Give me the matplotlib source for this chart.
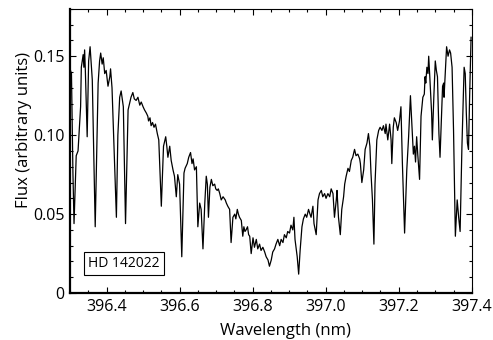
import matplotlib
matplotlib.use("Agg")
import matplotlib.pyplot as plt
from matplotlib.ticker import MultipleLocator

# Spectrum (wavelength in nm, flux in arbitrary units)
wavelength = [
    396.300, 396.304, 396.308, 396.311, 396.317, 396.322, 396.329, 396.331,
    396.336, 396.338, 396.340, 396.342, 396.347, 396.351, 396.355, 396.358,
    396.361, 396.369, 396.377, 396.381, 396.384, 396.388, 396.391, 396.395,
    396.399, 396.404, 396.409, 396.411, 396.415, 396.420, 396.427, 396.431,
    396.436, 396.440, 396.443, 396.446, 396.452, 396.459, 396.463, 396.467,
    396.472, 396.476, 396.481, 396.486, 396.491, 396.495, 396.500, 396.504,
    396.509, 396.513, 396.515, 396.519, 396.522, 396.526, 396.530, 396.534,
    396.539, 396.543, 396.550, 396.556, 396.562, 396.565, 396.568, 396.573,
    396.577, 396.582, 396.586, 396.591, 396.595, 396.600, 396.606, 396.612,
    396.615, 396.621, 396.625, 396.630, 396.634, 396.637, 396.641, 396.646,
    396.650, 396.655, 396.659, 396.664, 396.669, 396.673, 396.676, 396.679,
    396.683, 396.687, 396.691, 396.696, 396.699, 396.703, 396.706, 396.710,
    396.714, 396.719, 396.725, 396.728, 396.732, 396.737, 396.741, 396.746,
    396.751, 396.754, 396.758, 396.761, 396.764, 396.769, 396.773, 396.776,
    396.779, 396.782, 396.786, 396.789, 396.792, 396.796, 396.801, 396.805,
    396.810, 396.814, 396.819, 396.823, 396.828, 396.833, 396.837, 396.842,
    396.846, 396.851, 396.855, 396.860, 396.864, 396.869, 396.874, 396.878,
    396.883, 396.887, 396.892, 396.896, 396.901, 396.905, 396.910, 396.913,
    396.916, 396.922, 396.926, 396.930, 396.935, 396.939, 396.944, 396.948,
    396.953, 396.957, 396.960, 396.965, 396.968, 396.974, 396.979, 396.983,
    396.988, 396.992, 396.997, 397.001, 397.006, 397.011, 397.015, 397.020,
    397.024, 397.029, 397.031, 397.035, 397.040, 397.044, 397.049, 397.052,
    397.056, 397.061, 397.065, 397.070, 397.074, 397.079, 397.083, 397.088,
    397.093, 397.095, 397.099, 397.104, 397.108, 397.113, 397.117, 397.121,
    397.124, 397.128, 397.132, 397.135, 397.140, 397.145, 397.149, 397.154,
    397.158, 397.163, 397.165, 397.170, 397.175, 397.179, 397.181, 397.185,
    397.188, 397.193, 397.197, 397.202, 397.206, 397.210, 397.216, 397.222,
    397.227, 397.232, 397.237, 397.240, 397.243, 397.246, 397.249, 397.252,
    397.257, 397.261, 397.266, 397.270, 397.272, 397.274, 397.277, 397.280,
    397.282, 397.285, 397.290, 397.292, 397.296, 397.300, 397.303, 397.306,
    397.310, 397.313, 397.317, 397.320, 397.323, 397.324, 397.328, 397.331,
    397.335, 397.339, 397.342, 397.346, 397.350, 397.355, 397.360, 397.364,
    397.368, 397.373, 397.379, 397.382, 397.385, 397.388, 397.391, 397.394,
    397.398,
]
flux = [
    0.142, 0.139, 0.076, 0.044, 0.087, 0.090, 0.118, 0.143,
    0.151, 0.143, 0.154, 0.141, 0.099, 0.147, 0.156, 0.145,
    0.135, 0.042, 0.133, 0.147, 0.152, 0.145, 0.149, 0.139,
    0.141, 0.131, 0.137, 0.142, 0.130, 0.095, 0.048, 0.100,
    0.124, 0.128, 0.123, 0.118, 0.044, 0.116, 0.120, 0.124,
    0.127, 0.123, 0.122, 0.124, 0.119, 0.121, 0.118, 0.116,
    0.114, 0.112, 0.109, 0.111, 0.106, 0.108, 0.105, 0.107,
    0.101, 0.097, 0.055, 0.093, 0.099, 0.093, 0.086, 0.093,
    0.084, 0.078, 0.074, 0.061, 0.075, 0.069, 0.023, 0.076,
    0.079, 0.082, 0.086, 0.089, 0.082, 0.085, 0.078, 0.080,
    0.042, 0.057, 0.053, 0.028, 0.057, 0.074, 0.069, 0.048,
    0.067, 0.072, 0.068, 0.069, 0.066, 0.065, 0.066, 0.063,
    0.059, 0.061, 0.059, 0.057, 0.055, 0.053, 0.032, 0.048,
    0.050, 0.047, 0.053, 0.050, 0.048, 0.046, 0.036, 0.042,
    0.039, 0.040, 0.042, 0.037, 0.036, 0.025, 0.035, 0.029,
    0.034, 0.028, 0.031, 0.027, 0.029, 0.026, 0.023, 0.021,
    0.017, 0.021, 0.026, 0.028, 0.031, 0.034, 0.030, 0.034,
    0.032, 0.037, 0.035, 0.039, 0.038, 0.043, 0.040, 0.048,
    0.034, 0.023, 0.012, 0.027, 0.042, 0.047, 0.050, 0.048,
    0.053, 0.050, 0.048, 0.055, 0.044, 0.037, 0.059, 0.063,
    0.065, 0.061, 0.063, 0.060, 0.063, 0.061, 0.066, 0.063,
    0.048, 0.059, 0.065, 0.048, 0.037, 0.053, 0.061, 0.069,
    0.074, 0.079, 0.077, 0.084, 0.086, 0.091, 0.087, 0.088,
    0.085, 0.082, 0.070, 0.078, 0.091, 0.095, 0.101, 0.093,
    0.076, 0.059, 0.031, 0.069, 0.097, 0.103, 0.105, 0.103,
    0.106, 0.101, 0.107, 0.097, 0.107, 0.097, 0.082, 0.105,
    0.111, 0.108, 0.103, 0.109, 0.118, 0.082, 0.038, 0.078,
    0.099, 0.125, 0.101, 0.088, 0.093, 0.083, 0.099, 0.088,
    0.072, 0.112, 0.124, 0.126, 0.137, 0.133, 0.143, 0.139,
    0.150, 0.137, 0.114, 0.097, 0.124, 0.147, 0.141, 0.137,
    0.101, 0.086, 0.112, 0.131, 0.133, 0.124, 0.143, 0.156,
    0.150, 0.154, 0.152, 0.143, 0.103, 0.036, 0.059, 0.048,
    0.039, 0.093, 0.143, 0.139, 0.114, 0.095, 0.091, 0.124,
    0.162,
]

x_ticks = [396.4, 396.6, 396.8, 397.0, 397.2, 397.4]
x_tick_labels = ["396.4", "396.6", "396.8", "397.0", "397.2", "397.4"]
y_ticks = [0, 0.05, 0.10, 0.15]
y_tick_labels = ["0", "0.05", "0.10", "0.15"]
star_name = "HD 142022"

plt.rcParams["font.family"] = ["Open Sans", "DejaVu Sans"]

fig = plt.figure(figsize=(4.93, 3.40), dpi=100)
ax = fig.add_axes([0.142, 0.138, 0.815, 0.836])

ax.plot(wavelength, flux, color="black", linewidth=0.9)

ax.set_xlim(396.3, 397.4)
ax.set_ylim(0, 0.18)
ax.set_xticks(x_ticks)
ax.set_xticklabels(x_tick_labels)
ax.set_yticks(y_ticks)
ax.set_yticklabels(y_tick_labels)
ax.xaxis.set_minor_locator(MultipleLocator(0.05))
ax.yaxis.set_minor_locator(MultipleLocator(0.01))

ax.tick_params(which="both", direction="in", top=True, right=True,
               labelsize=11.5, width=0.8)
ax.tick_params(which="major", length=4.5, pad=4)
ax.tick_params(which="minor", length=2.5)
for side in ["left", "bottom"]:
    ax.spines[side].set_linewidth(1.6)
for side in ["top", "right"]:
    ax.spines[side].set_linewidth(0.8)

ax.set_xlabel("Wavelength (nm)", fontsize=12)
ax.xaxis.set_label_coords(0.535, -0.107)
ax.set_ylabel("Flux (arbitrary units)", fontsize=12)
ax.yaxis.set_label_coords(-0.095, 0.574)

ax.text(0.134, 0.104, star_name, transform=ax.transAxes, fontsize=10,
        ha="center", va="center",
        bbox=dict(boxstyle="square,pad=0.3", facecolor="white",
                  edgecolor="black", linewidth=0.8))

fig.savefig("out.png", dpi=100)
